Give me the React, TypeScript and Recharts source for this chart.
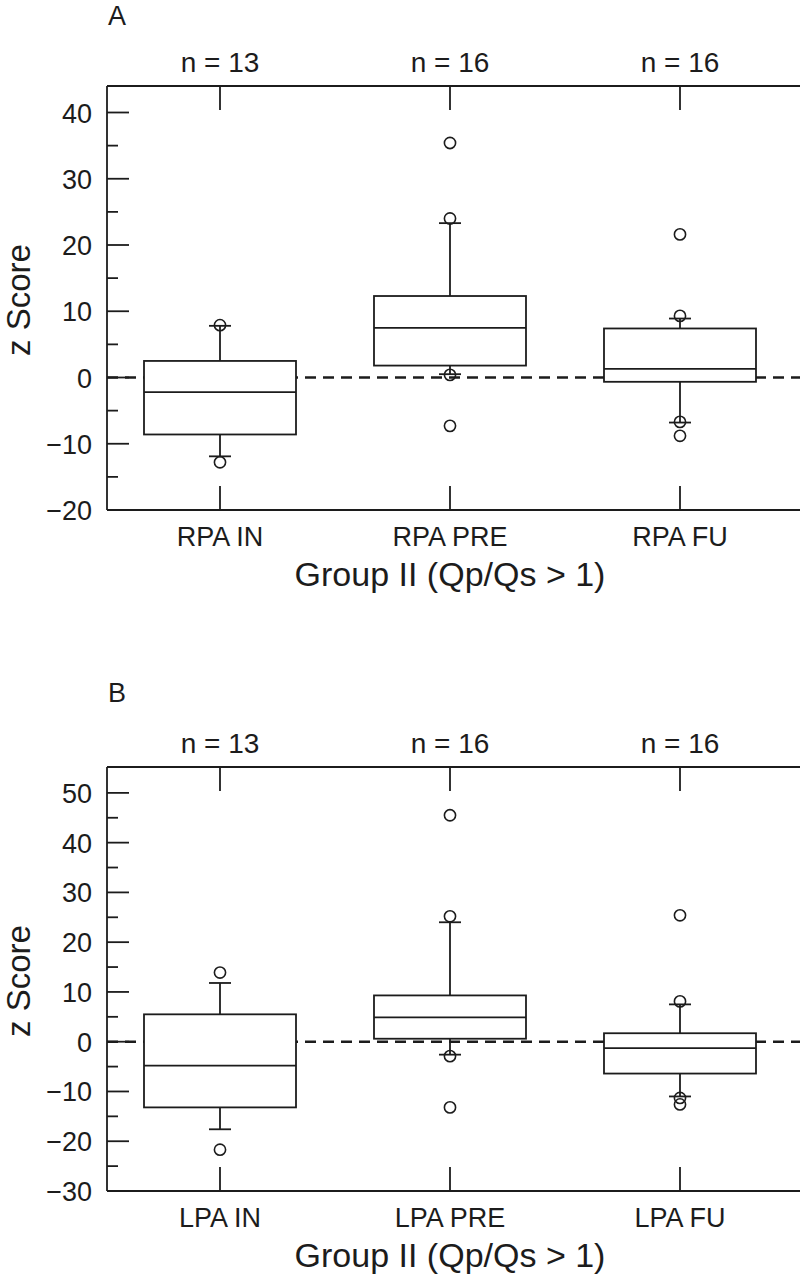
import React from 'react';
import { ComposedChart, Bar, Scatter, XAxis, YAxis, ReferenceLine, Label } from 'recharts';

// x positions of the three groups (numeric axis so the frame can run off the right edge)
const positions = [1, 2, 3];

// Panel A – right pulmonary artery
const rpaCategories = ['RPA IN', 'RPA PRE', 'RPA FU'];
const rpaCounts = [13, 16, 16];
const rpaQ1 = [-8.6, 1.8, -0.65];
const rpaMedian = [-2.2, 7.5, 1.3];
const rpaQ3 = [2.5, 12.3, 7.4];
const rpaWhiskerLow = [-11.9, 0.5, -6.8];
const rpaWhiskerHigh = [7.8, 23.3, 8.9];
const rpaOutliers = [
  [7.9, -12.8],
  [35.4, 24.0, 0.4, -7.3],
  [21.6, 9.3, -6.7, -8.8],
];
const rpaTicks = [-20, -15, -10, -5, 0, 5, 10, 15, 20, 25, 30, 35, 40];

// Panel B – left pulmonary artery
const lpaCategories = ['LPA IN', 'LPA PRE', 'LPA FU'];
const lpaCounts = [13, 16, 16];
const lpaQ1 = [-13.2, 0.6, -6.4];
const lpaMedian = [-4.8, 4.9, -1.3];
const lpaQ3 = [5.5, 9.3, 1.7];
const lpaWhiskerLow = [-17.6, -2.6, -11.0];
const lpaWhiskerHigh = [11.8, 24.0, 7.5];
const lpaOutliers = [
  [13.9, -21.7],
  [45.5, 25.2, -2.9, -13.2],
  [25.4, 8.1, -11.3, -12.6],
];
const lpaTicks = [-30, -25, -20, -15, -10, -5, 0, 5, 10, 15, 20, 25, 30, 35, 40, 45, 50];

const INK = '#1c1c1c';
const FONT = '"Liberation Sans", Arial, Helvetica, sans-serif';
const LW = 1.8;
const BOX_W = 152;
const CAP_HALF = 11;
const X_DOMAIN: [number, number] = [0.5087, 3.5522];
const Y_AXIS_W = 107;
const PLOT_H = 424;
const CHART_W = 807;

const fmt = (v: number) => (v < 0 ? '\u2212' + Math.abs(v) : String(v));

const boxShape = (p: any) => {
  const y0 = Math.min(p.y, p.y + p.height);
  return (
    <rect x={p.x} y={y0} width={p.width} height={Math.abs(p.height)} fill="#fff" stroke={INK} strokeWidth={LW} />
  );
};

const whiskerShape = (p: any) => {
  const cx = p.x + p.width / 2;
  return <line x1={cx} x2={cx} y1={p.y} y2={p.y + p.height} stroke={INK} strokeWidth={LW} />;
};

const medianShape = (p: any) => (
  <line x1={p.cx - BOX_W / 2} x2={p.cx + BOX_W / 2} y1={p.cy} y2={p.cy} stroke={INK} strokeWidth={LW} />
);

const capShape = (p: any) => (
  <line x1={p.cx - CAP_HALF} x2={p.cx + CAP_HALF} y1={p.cy} y2={p.cy} stroke={INK} strokeWidth={LW} />
);

const outlierShape = (p: any) => <circle cx={p.cx} cy={p.cy} r={5.6} fill="none" stroke={INK} strokeWidth={1.6} />;

const YTick = ({ x, y, payload }: any) => {
  const major = payload.value % 10 === 0;
  return (
    <g>
      <line x1={x} x2={x + (major ? 22 : 11)} y1={y} y2={y} stroke={INK} strokeWidth={LW} />
      {major && (
        <text x={x - 15} y={y + 10} textAnchor="end" fontSize={27} fontFamily={FONT} fill={INK}>
          {fmt(payload.value)}
        </text>
      )}
    </g>
  );
};

interface PanelProps {
  letter: string;
  categories: string[];
  counts: number[];
  q1: number[];
  median: number[];
  q3: number[];
  lo: number[];
  hi: number[];
  outliers: number[][];
  yDomain: [number, number];
  yTicks: number[];
  topH: number;
  bottomH: number;
  letterY: number;
}

const BoxPanel: React.FC<PanelProps> = ({
  letter, categories, counts, q1, median, q3, lo, hi, outliers, yDomain, yTicks, topH, bottomH, letterY,
}) => {
  const rows = positions.map((pos, i) => ({ pos, box: [q1[i], q3[i]], whisker: [lo[i], hi[i]] }));
  const medians = positions.map((pos, i) => ({ pos, y: median[i] }));
  const caps = positions.flatMap((pos, i) => [{ pos, y: lo[i] }, { pos, y: hi[i] }]);
  const points = positions.flatMap((pos, i) => outliers[i].map((y) => ({ pos, y })));
  const plotBottom = topH + PLOT_H;
  const midY = topH + PLOT_H / 2 + 2;

  const BottomTick = ({ x, y, payload }: any) => (
    <g>
      <line x1={x} x2={x} y1={y} y2={y - 24} stroke={INK} strokeWidth={LW} />
      <text x={x} y={y + 36} textAnchor="middle" fontSize={27} fontFamily={FONT} fill={INK}>
        {categories[positions.indexOf(payload.value)]}
      </text>
    </g>
  );

  const TopTick = ({ x, y, payload }: any) => (
    <g>
      <line x1={x} x2={x} y1={y} y2={y + 24} stroke={INK} strokeWidth={LW} />
      <text x={x} y={y - 14} textAnchor="middle" fontSize={28} fontFamily={FONT} fill={INK}>
        {`n = ${counts[positions.indexOf(payload.value)]}`}
      </text>
    </g>
  );

  return (
    <ComposedChart
      width={CHART_W}
      height={topH + PLOT_H + bottomH}
      data={rows}
      margin={{ top: 0, right: 0, bottom: 0, left: 0 }}
    >
      <XAxis
        xAxisId="main"
        dataKey="pos"
        type="number"
        domain={X_DOMAIN}
        allowDataOverflow
        ticks={positions}
        interval={0}
        height={bottomH}
        tickLine={false}
        tickSize={0}
        tickMargin={0}
        tick={<BottomTick />}
        axisLine={{ stroke: INK, strokeWidth: LW }}
      >
        <Label
          content={() => (
            <text x={450} y={plotBottom + 76} textAnchor="middle" fontSize={34} fontFamily={FONT} fill={INK}>
              Group II (Qp/Qs &gt; 1)
            </text>
          )}
        />
      </XAxis>
      <XAxis
        xAxisId="top"
        orientation="top"
        dataKey="pos"
        type="number"
        domain={X_DOMAIN}
        allowDataOverflow
        ticks={positions}
        interval={0}
        height={topH}
        tickLine={false}
        tickSize={0}
        tickMargin={0}
        tick={<TopTick />}
        axisLine={{ stroke: INK, strokeWidth: LW }}
      >
        <Label
          content={() => (
            <text x={108} y={letterY} fontSize={27} fontFamily={FONT} fill={INK}>
              {letter}
            </text>
          )}
        />
      </XAxis>
      <XAxis xAxisId="w" dataKey="pos" type="number" domain={X_DOMAIN} allowDataOverflow ticks={positions} hide />
      <YAxis
        type="number"
        domain={yDomain}
        allowDataOverflow
        ticks={yTicks}
        interval={0}
        width={Y_AXIS_W}
        tickLine={false}
        tickSize={0}
        tickMargin={0}
        tick={<YTick />}
        axisLine={{ stroke: INK, strokeWidth: LW }}
      >
        <Label
          content={() => (
            <text
              x={30}
              y={midY}
              transform={`rotate(-90 30 ${midY})`}
              textAnchor="middle"
              fontSize={33}
              fontFamily={FONT}
              fill={INK}
            >
              z Score
            </text>
          )}
        />
      </YAxis>
      <ReferenceLine
        xAxisId="main"
        y={0}
        stroke={INK}
        strokeWidth={2.6}
        strokeDasharray="11 7"
        zIndex={-10}
      />
      <Bar xAxisId="w" dataKey="whisker" barSize={4} shape={whiskerShape} isAnimationActive={false} />
      <Bar xAxisId="main" dataKey="box" barSize={BOX_W} shape={boxShape} isAnimationActive={false} />
      <Scatter xAxisId="main" data={medians} dataKey="y" shape={medianShape} isAnimationActive={false} />
      <Scatter xAxisId="main" data={caps} dataKey="y" shape={capShape} isAnimationActive={false} />
      <Scatter xAxisId="main" data={points} dataKey="y" shape={outlierShape} isAnimationActive={false} />
    </ComposedChart>
  );
};

export default function App() {
  return (
    <div style={{ position: 'relative', width: 800, height: 1280, overflow: 'hidden', background: '#fff' }}>
      <style>{'body{margin:0;}'}</style>
      <div style={{ position: 'absolute', left: 0, top: 0 }}>
        <BoxPanel
          letter="A"
          categories={rpaCategories}
          counts={rpaCounts}
          q1={rpaQ1}
          median={rpaMedian}
          q3={rpaQ3}
          lo={rpaWhiskerLow}
          hi={rpaWhiskerHigh}
          outliers={rpaOutliers}
          yDomain={[-20, 44]}
          yTicks={rpaTicks}
          topH={86}
          bottomH={110}
          letterY={25}
        />
      </div>
      <div style={{ position: 'absolute', left: 0, top: 670 }}>
        <BoxPanel
          letter="B"
          categories={lpaCategories}
          counts={lpaCounts}
          q1={lpaQ1}
          median={lpaMedian}
          q3={lpaQ3}
          lo={lpaWhiskerLow}
          hi={lpaWhiskerHigh}
          outliers={lpaOutliers}
          yDomain={[-30, 55.2]}
          yTicks={lpaTicks}
          topH={97}
          bottomH={89}
          letterY={32}
        />
      </div>
    </div>
  );
}
